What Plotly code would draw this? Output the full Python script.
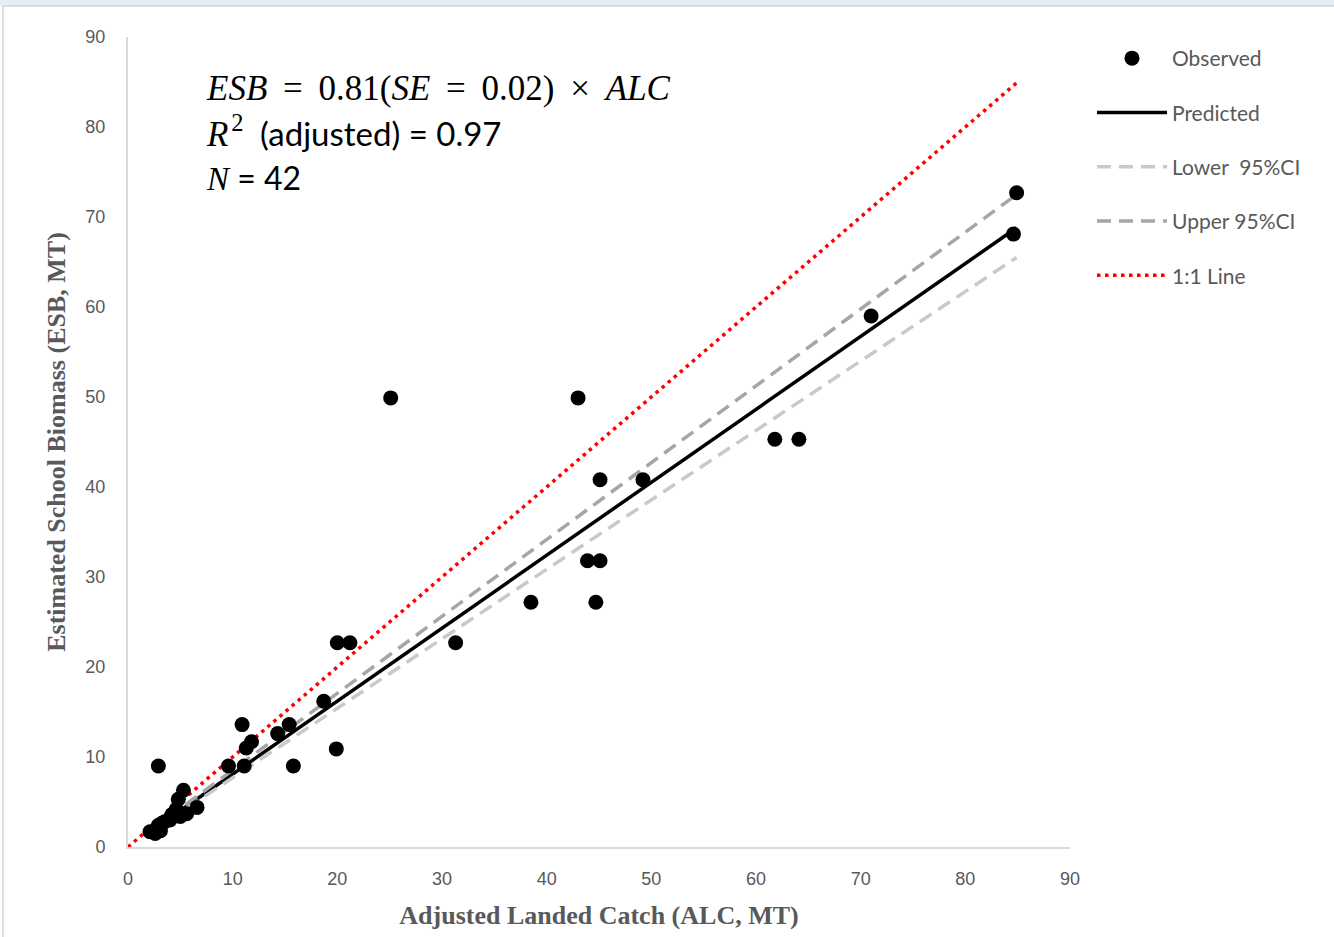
import plotly.graph_objects as go

# Observed data (ALC, ESB)
alc = [2.9, 10.9, 15.4, 14.3, 11.8, 11.3, 9.6, 11.1, 15.8, 19.9, 18.7, 20.0, 21.2, 25.1,
       31.3, 38.5, 43.0, 43.9, 45.1, 44.7, 45.1, 49.2, 61.8, 64.1, 71.0, 84.9, 84.6,
       5.3, 4.8, 6.6, 5.6, 5.0, 4.6, 4.2, 3.5, 2.9, 3.2, 2.1, 2.6, 3.1, 2.7, 4.0]
esb = [9.0, 13.6, 13.6, 12.6, 11.7, 11.0, 9.0, 9.0, 9.0, 10.9, 16.2, 22.7, 22.7, 49.9,
       22.7, 27.2, 49.9, 31.8, 31.8, 27.2, 40.8, 40.8, 45.3, 45.3, 59.0, 72.7, 68.1,
       6.3, 5.3, 4.4, 3.7, 3.4, 4.2, 3.6, 2.8, 2.4, 2.6, 1.7, 1.5, 1.8, 2.0, 3.0]

# Fitted lines (endpoints)
pred_x = [2.1, 84.9]
pred_y = [1.7, 68.8]
lower_x = [2.1, 84.9]
lower_y = [1.6, 65.5]
upper_x = [2.1, 84.9]
upper_y = [1.8, 72.5]
one_x = [0, 84.9]
one_y = [0, 84.9]

ticks = [0, 10, 20, 30, 40, 50, 60, 70, 80, 90]

SANS = "Lato, 'Open Sans', sans-serif"
NARROW = "'Liberation Sans Narrow', 'Liberation Sans', sans-serif"
SERIF = "'Liberation Serif', 'DejaVu Serif', serif"
GRAY = "#595959"

fig = go.Figure()

fig.add_trace(go.Scatter(x=pred_x, y=pred_y, mode="lines", name="Predicted",
                         line=dict(color="black", width=3.5), legendrank=2,
                         legendgroup="b"))
fig.add_trace(go.Scatter(x=lower_x, y=lower_y, mode="lines", name="Lower\u00a0 95%CI",
                         line=dict(color="#c9c9c9", width=3.5, dash="14px,8px"), legendrank=3,
                         legendgroup="c"))
fig.add_trace(go.Scatter(x=upper_x, y=upper_y, mode="lines", name="Upper 95%CI",
                         line=dict(color="#a6a6a6", width=3.5, dash="14px,8px"), legendrank=4,
                         legendgroup="d"))
fig.add_trace(go.Scatter(x=one_x, y=one_y, mode="lines", name="1:1 Line",
                         line=dict(color="#ff0000", width=3.5, dash="3.5px,4.5px"), legendrank=5,
                         legendgroup="e"))
fig.add_trace(go.Scatter(x=alc, y=esb, mode="markers", name="Observed",
                         marker=dict(color="black", size=15), legendrank=1,
                         legendgroup="a"))

axis_common = dict(
    range=[0, 90], tickvals=ticks, showgrid=False, zeroline=False,
    showline=True, linecolor="#d9d9d9", linewidth=2, ticks="",
    tickfont=dict(family=NARROW, size=18, color=GRAY),
)

fig.update_xaxes(**axis_common, ticklabelstandoff=14,
                 title=dict(text="<b>Adjusted Landed Catch (ALC, MT)</b>",
                            font=dict(family=SERIF, size=26, color=GRAY), standoff=18))
fig.update_yaxes(**axis_common, ticklabelstandoff=17,
                 title=dict(text="<b>Estimated School Biomass (ESB, MT)</b>",
                            font=dict(family=SERIF, size=26, color=GRAY), standoff=12))

def px2x(px):
    return (px - 128) / 942.0

def px2y(py):
    return (847 - py) / 810.0

SP = " \u2009"
annos = [
    dict(text=f"<i>ESB</i>{SP}={SP}0.81(<i>SE</i>{SP}={SP}0.02){SP}×{SP}<i>ALC</i>", y=px2y(88),
         font=dict(family=SERIF, size=35, color="black")),
    dict(text="<span style='font-family:Liberation Serif;font-size:35px'><i>R</i>\u200a<sup>2</sup></span>\u2002(adjusted) = 0.97",
         y=px2y(132), font=dict(family=SANS, size=33, color="black")),
    dict(text="<span style='font-family:Liberation Serif;font-size:33px'><i>N</i></span> = 42", y=px2y(177),
         font=dict(family=SANS, size=32, color="black")),
]
for a in annos:
    fig.add_annotation(xref="paper", yref="paper", x=px2x(204), xanchor="left",
                       yanchor="middle", showarrow=False, **a)

# Light window frame at the top/left of the image
fig.add_shape(type="rect", xref="paper", yref="paper", x0=px2x(0), x1=px2x(1334),
              y0=px2y(6), y1=px2y(0), fillcolor="#e6edf6", line=dict(width=0), layer="below")
fig.add_shape(type="line", xref="paper", yref="paper", x0=px2x(3), x1=px2x(1334),
              y0=px2y(6), y1=px2y(6), line=dict(color="#cfd4da", width=1.5))
fig.add_shape(type="line", xref="paper", yref="paper", x0=px2x(3), x1=px2x(3),
              y0=px2y(937), y1=px2y(6), line=dict(color="#cfd4da", width=1.5))

fig.update_layout(
    width=1334, height=937,
    margin=dict(l=128, r=264, t=37, b=90),
    paper_bgcolor="white", plot_bgcolor="white",
    showlegend=True,
    legend=dict(x=px2x(1092), y=px2y(38), xanchor="left", yanchor="top",
                font=dict(family=SANS, size=21, color=GRAY),
                itemwidth=70, tracegroupgap=24, bgcolor="rgba(0,0,0,0)"),
)

fig.write_html("out.html", config={"displayModeBar": False},
               post_script="document.body.style.margin='0';")
